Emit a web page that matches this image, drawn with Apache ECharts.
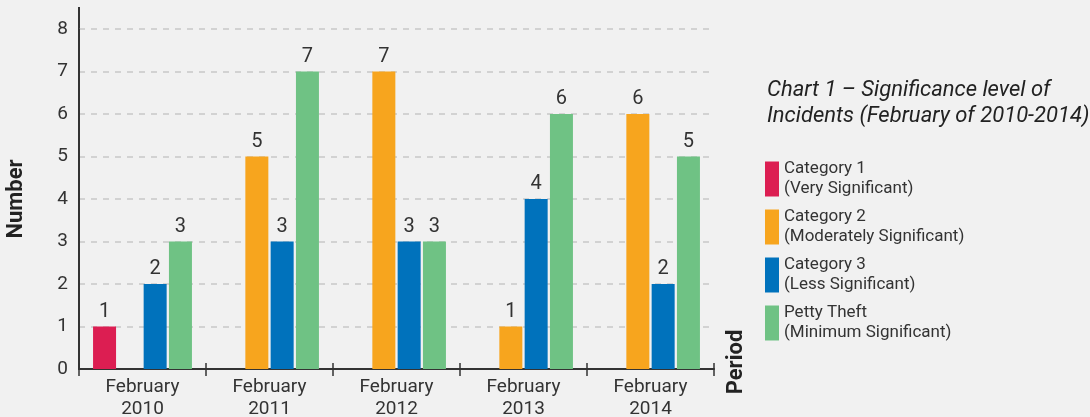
<!DOCTYPE html>
<html><head><meta charset="utf-8">
<script src="https://cdn.jsdelivr.net/npm/echarts@6/dist/echarts.min.js"></script>
<style>html,body{margin:0;padding:0;background:#f1f1f1;}#c{width:1090px;height:417px;}</style>
</head><body><div id="c"></div>
<script>
const categories = ['February\n2010','February\n2011','February\n2012','February\n2013','February\n2014'];
const seriesNames = ['Category 1','Category 2','Category 3','Petty Theft'];
const seriesSub = ['(Very Significant)','(Moderately Significant)','(Less Significant)','(Minimum Significant)'];
const cat1 = [1, null, null, null, null];
const cat2 = [null, 5, 7, 1, 6];
const cat3 = [2, 3, 3, 4, 2];
const petty = [3, 7, 3, 6, 5];
const colors = ['#dc1e52','#f7a51e','#0072bc','#6fc284'];
const yTicks = [0,1,2,3,4,5,6,7,8];

const font = 'Roboto, "Noto Sans", sans-serif';
const chart = echarts.init(document.getElementById('c'), null, {renderer:'canvas'});
const values = [cat1, cat2, cat3, petty];
const subMap = {};
seriesNames.forEach((n,i)=>subMap[n]=seriesSub[i]);

chart.setOption({
  backgroundColor:'#f1f1f1',
  animation:false,
  title:{
    text:'Chart 1 – Significance level of\nIncidents (February of 2010-2014)',
    left:762, top:72,
    textStyle:{fontFamily:font, fontStyle:'italic', fontWeight:'normal', fontSize:22, lineHeight:26, color:'#222'}
  },
  legend:{
    orient:'vertical', left:760, top:154, itemWidth:14, itemHeight:35, itemGap:8,
    icon:'rect',
    data:seriesNames,
    formatter:n=>n+'\n'+subMap[n],
    textStyle:{fontFamily:font, fontSize:17, lineHeight:20, color:'#333'}
  },
  grid:{left:79, right:376, top:29, bottom:48, containLabel:false, outerBoundsMode:'none'},
  xAxis:[{
    type:'category', data:categories,
    axisLine:{lineStyle:{color:'#333', width:2}},
    axisTick:{show:true, length:7, lineStyle:{color:'#333', width:1.5}},
    axisLabel:{fontFamily:font, fontSize:19, lineHeight:22, color:'#333', margin:7},
    name:'Period', nameLocation:'end', nameRotate:90, nameGap:22,
    nameTextStyle:{fontFamily:font, fontSize:22, fontWeight:'bold', color:'#222', align:'center', verticalAlign:'middle', padding:[0,0,0,14]}
  },{
    type:'category', data:categories, position:'bottom',
    axisLine:{show:false},
    axisTick:{show:true, inside:true, length:6, lineStyle:{color:'#333', width:1.5}},
    axisLabel:{show:false}
  }],
  yAxis:{
    type:'value', min:0, max:8, interval:1,
    axisLine:{show:true, lineStyle:{color:'#333', width:2}},
    axisTick:{show:false},
    axisLabel:{fontFamily:font, fontSize:19, color:'#333', margin:11, formatter:v=>yTicks.includes(v)?String(v):''},
    splitLine:{lineStyle:{color:'#c8c8c8', width:1.5, type:[6,6]}},
    name:'Number', nameLocation:'middle', nameGap:52, nameRotate:90,
    nameTextStyle:{fontFamily:font, fontSize:22, fontWeight:'bold', color:'#222'}
  },
  graphic:[{type:'line', shape:{x1:79, y1:7, x2:79, y2:30}, style:{stroke:'#333', lineWidth:2}, silent:true}],
  series: values.map((d,i)=>({
    name:seriesNames[i], type:'bar', data:d, barWidth:23, barGap:'10%',
    itemStyle:{color:colors[i]},
    label:{show:true, position:'top', distance:5, fontFamily:font, fontSize:20, color:'#333'}
  }))
});
</script></body></html>
